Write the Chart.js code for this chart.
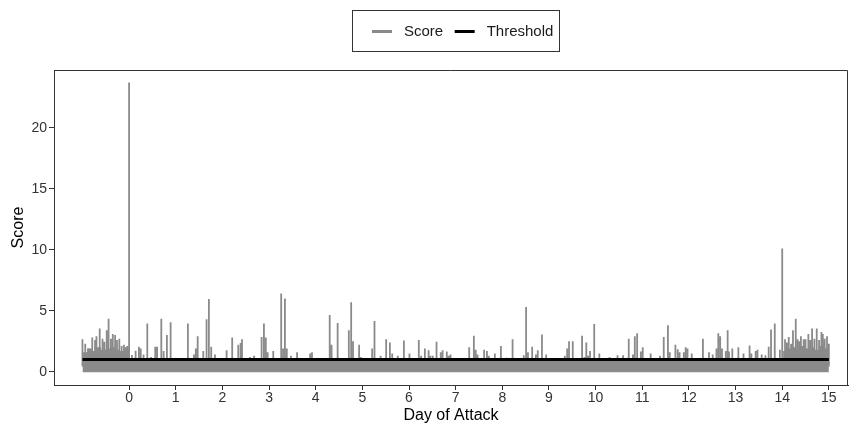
<!DOCTYPE html>
<html>
<head>
<meta charset="utf-8">
<script src="https://cdn.jsdelivr.net/npm/chart.js@4.4.1/dist/chart.umd.min.js"></script>
<style>
  body { margin: 0; background: #fff; }
  canvas { display: block; }
</style>
</head>
<body>
<canvas id="scoreChart" width="849" height="426"></canvas>
<script>
// score spikes that rise out of the dense band, by day of attack
const spikeDays = [
  -1.00, -0.94, -0.87, -0.79, -0.73, -0.70, -0.63, -0.57, -0.53, -0.48, -0.44, -0.39, -0.35, -0.30, -0.26, -0.21, -0.16, -0.11, -0.07, -0.04, 0.00,
  0.06, 0.14, 0.21, 0.25, 0.31, 0.39, 0.47, 0.56, 0.60, 0.69, 0.74, 0.81, 0.89, 1.26, 1.39, 1.43, 1.47, 1.59, 1.66, 1.71, 1.76, 1.84,
  2.09, 2.21, 2.34, 2.39, 2.42, 2.59, 2.68, 2.84, 2.89, 2.93, 2.97, 3.09, 3.26, 3.30, 3.34, 3.38, 3.47, 3.60, 3.88, 3.92, 4.30, 4.34, 4.47,
  4.71, 4.76, 4.80, 4.93, 4.97, 5.21, 5.26, 5.39, 5.51, 5.59, 5.64, 5.76, 5.89, 6.01, 6.21, 6.26, 6.34, 6.42, 6.46, 6.51, 6.59, 6.68, 6.72, 6.81, 6.85, 6.89, 7.29,
  7.39, 7.43, 7.47, 7.61, 7.67, 7.71, 7.84, 7.97, 8.10, 8.22, 8.46, 8.51, 8.55, 8.64, 8.72, 8.76, 8.85, 8.94, 9.34, 9.39, 9.43, 9.51, 9.71, 9.76, 9.80, 9.84, 9.88, 9.97,
  10.08, 10.30, 10.47, 10.59, 10.71, 10.80, 10.84, 10.89, 10.97, 11.01, 11.18, 11.38, 11.46, 11.55, 11.59, 11.71, 11.76, 11.80, 11.89, 11.93, 11.97, 12.06,
  12.30, 12.43, 12.51, 12.59, 12.63, 12.67, 12.71, 12.79, 12.83, 12.86, 12.93, 13.06, 13.17, 13.30, 13.34, 13.43, 13.47, 13.56, 13.64, 13.71, 13.76, 13.84, 13.95, 14.00,
  14.06, 14.10, 14.14, 14.19, 14.23, 14.29, 14.33, 14.37, 14.40, 14.46, 14.50, 14.56, 14.60, 14.64, 14.69, 14.74, 14.79, 14.84, 14.87, 14.91, 14.96, 15.00
];
const spikeScores = [
  2.65, 2.3, 1.9, 2.8, 2.6, 2.9, 3.55, 2.7, 2.45, 3.4, 4.35, 2.7, 3.1, 3.0, 2.6, 2.7, 2.1, 2.2, 2.0, 2.1, 23.7,
  1.37, 1.72, 2.05, 1.9, 1.4, 3.95, 1.2, 2.05, 2.05, 4.35, 1.7, 3.0, 4.05, 3.95, 1.4, 1.9, 2.9, 1.7, 4.3, 5.95, 2.05, 1.4,
  1.75, 2.8, 2.2, 2.35, 2.65, 1.2, 1.3, 2.85, 3.95, 2.8, 1.6, 1.7, 6.4, 1.9, 6.0, 1.9, 1.3, 1.6, 1.5, 1.6, 4.65, 2.2, 4.0,
  3.4, 5.7, 2.5, 2.2, 1.2, 1.9, 4.15, 1.3, 2.65, 2.4, 1.5, 1.3, 2.55, 1.5, 2.6, 1.3, 1.9, 1.75, 1.3, 1.3, 2.45, 1.6, 1.75, 1.65, 1.3, 1.4, 2.0,
  2.95, 1.8, 1.4, 1.8, 1.7, 1.3, 1.5, 2.1, 1.15, 2.65, 1.35, 5.3, 1.6, 2.05, 1.4, 1.75, 3.05, 1.4, 1.3, 1.9, 2.5, 2.5, 2.95, 1.2, 2.4, 1.3, 1.7, 3.9,
  1.5, 1.2, 1.35, 1.35, 2.7, 1.4, 2.9, 3.15, 1.65, 2.0, 1.5, 1.3, 2.85, 3.8, 1.6, 2.2, 1.85, 1.6, 1.6, 2.0, 1.9, 1.5,
  2.7, 1.6, 1.4, 1.9, 3.15, 2.9, 1.9, 1.7, 3.4, 1.65, 1.9, 2.0, 1.5, 2.15, 1.5, 1.7, 1.8, 1.4, 1.35, 2.05, 3.45, 3.95, 1.8, 10.1,
  2.65, 2.4, 2.85, 2.3, 3.4, 4.35, 2.65, 2.5, 2.9, 2.65, 2.65, 3.1, 2.6, 3.55, 2.7, 3.55, 2.6, 3.25, 3.1, 2.7, 2.9, 2.3
];

// upper edge of the dense band of scores under the spikes
const bandDays = [-1.00, -0.90, -0.80, -0.70, -0.60, -0.50, -0.40, -0.30, -0.20, -0.10, 0.00, 0.02, 13.98, 14.02, 14.10, 14.20, 14.30, 14.40, 14.50, 14.60, 14.70, 14.80, 14.90, 15.00];
const bandTops = [1.6, 1.9, 1.7, 2.0, 1.8, 1.9, 2.0, 1.8, 1.7, 1.8, 1.0, 1.0, 1.0, 1.7, 1.9, 2.0, 1.8, 2.1, 1.9, 2.0, 1.8, 2.1, 1.9, 1.9];
const bandFloor = -0.05;

const thresholdDays = [-1, 15];
const thresholdScores = [1, 1];

const dayTicks = [0, 1, 2, 3, 4, 5, 6, 7, 8, 9, 10, 11, 12, 13, 14, 15];
const scoreTicks = [0, 5, 10, 15, 20];

const grey = '#8a8a8a';
const fontFamily = '"Liberation Sans", Arial, Helvetica, sans-serif';

// each spike is drawn as a vertical stroke up from inside the band and back down
const spikeBase = 0.5;
const spikePoints = [];
spikeDays.forEach((d, i) => {
  spikePoints.push({x: d, y: spikeBase}, {x: d, y: spikeScores[i]}, {x: d, y: spikeBase});
});

const bandPoints = bandDays.map((d, i) => ({x: d, y: bandTops[i]}));
const thresholdPoints = thresholdDays.map((d, i) => ({x: d, y: thresholdScores[i]}));

// top and right sides of the panel box
const panelBorder = {
  id: 'panelBorder',
  afterDraw(chart) {
    const {ctx, chartArea: a} = chart;
    ctx.save();
    ctx.strokeStyle = '#333';
    ctx.lineWidth = 1;
    ctx.beginPath();
    ctx.moveTo(a.left, a.top + 0.5);
    ctx.lineTo(a.right - 0.5, a.top + 0.5);
    ctx.lineTo(a.right - 0.5, a.bottom);
    ctx.stroke();
    ctx.restore();
  }
};

// boxed legend above the panel
const legendBox = {
  id: 'legendBox',
  afterDraw(chart) {
    const ctx = chart.ctx;
    const items = chart.data.datasets.filter(ds => ds.label);
    ctx.save();
    ctx.strokeStyle = '#333';
    ctx.lineWidth = 1;
    ctx.strokeRect(352.5, 10.5, 207, 41);
    ctx.font = '15px ' + fontFamily;
    ctx.textBaseline = 'middle';
    ctx.textAlign = 'left';
    const y = 31.5;
    let x = 372;
    items.forEach(ds => {
      ctx.strokeStyle = ds.legendColor;
      ctx.lineWidth = 3;
      ctx.beginPath();
      ctx.moveTo(x, y);
      ctx.lineTo(x + 20, y);
      ctx.stroke();
      x += 32;
      ctx.fillStyle = '#1a1a1a';
      ctx.fillText(ds.label, x, y);
      x += ctx.measureText(ds.label).width + 11.5;
    });
    ctx.restore();
  }
};

new Chart(document.getElementById('scoreChart'), {
  type: 'line',
  data: {
    datasets: [
      {
        label: 'Score',
        legendColor: grey,
        data: spikePoints,
        borderColor: grey,
        borderWidth: 1.8,
        pointRadius: 0,
        tension: 0,
        order: 1
      },
      {
        label: 'Threshold',
        legendColor: '#000',
        data: thresholdPoints,
        borderColor: '#000',
        borderWidth: 3.2,
        pointRadius: 0,
        order: 0
      },
      {
        data: bandPoints,
        borderWidth: 0,
        borderColor: grey,
        backgroundColor: grey,
        fill: {value: bandFloor},
        stepped: 'before',
        pointRadius: 0,
        order: 2
      }
    ]
  },
  options: {
    responsive: false,
    animation: false,
    events: [],
    layout: {padding: {top: 70, right: 1, left: 0, bottom: 0}},
    plugins: {
      legend: {display: false},
      tooltip: {enabled: false}
    },
    scales: {
      x: {
        type: 'linear',
        min: -1.61,
        max: 15.41,
        afterBuildTicks: axis => { axis.ticks = dayTicks.map(v => ({value: v})); },
        afterFit: axis => { axis.height = 41; },
        ticks: {
          color: '#333',
          font: {family: fontFamily, size: 14},
          padding: 0,
          maxRotation: 0,
          autoSkip: false
        },
        grid: {drawOnChartArea: false, drawTicks: true, tickLength: 5, tickColor: '#333'},
        border: {display: true, color: '#333', width: 1},
        title: {
          display: true,
          text: 'Day of Attack',
          color: '#000',
          font: {family: fontFamily, size: 16},
          padding: {top: 0, bottom: 1}
        }
      },
      y: {
        type: 'linear',
        min: -1.09,
        max: 24.73,
        afterBuildTicks: axis => { axis.ticks = scoreTicks.map(v => ({value: v})); },
        afterFit: axis => { axis.width = 54; },
        ticks: {
          color: '#333',
          font: {family: fontFamily, size: 14},
          padding: 2
        },
        grid: {drawOnChartArea: false, drawTicks: true, tickLength: 5, tickColor: '#333'},
        border: {display: true, color: '#333', width: 1},
        title: {
          display: true,
          text: 'Score',
          color: '#000',
          font: {family: fontFamily, size: 16},
          padding: {top: 9, bottom: 0}
        }
      }
    }
  },
  plugins: [panelBorder, legendBox]
});
</script>
</body>
</html>
